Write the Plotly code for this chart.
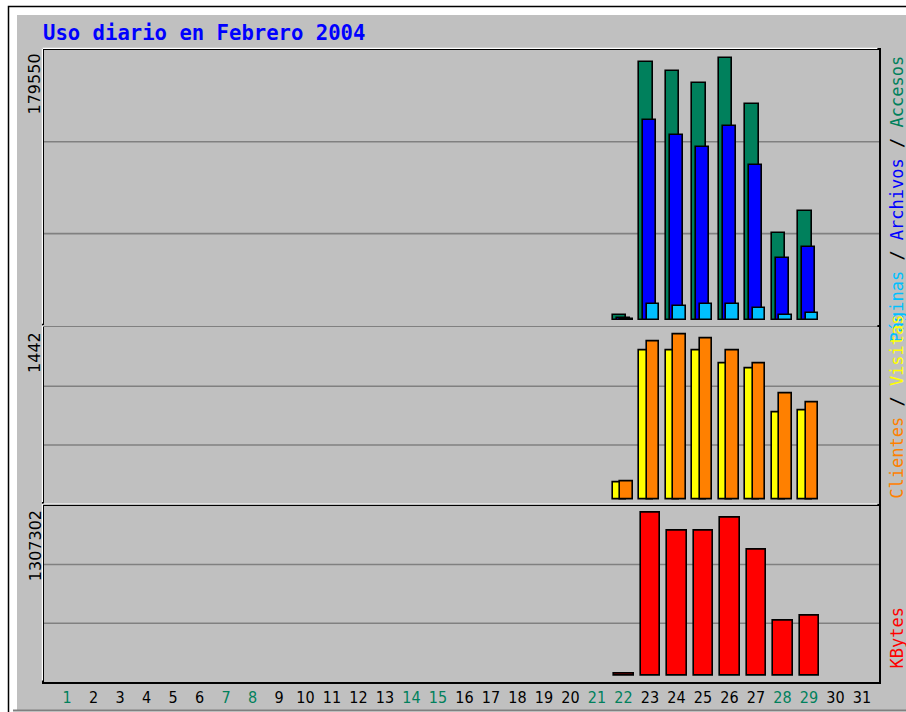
import plotly.graph_objects as go

# ---------------- data ----------------
dias_mes = list(range(1, 32))
fines_de_semana = [1, 7, 8, 14, 15, 21, 22, 28, 29]
dias = [22, 23, 24, 25, 26, 27, 28, 29]
accesos = [3900, 177000, 171000, 162600, 179550, 148000, 59900, 74800]
archivos = [1600, 137000, 126900, 118700, 133100, 106300, 43000, 50100]
paginas = [1100, 11000, 9800, 11000, 11000, 8700, 3600, 5000]
visitas = [143, 1301, 1301, 1301, 1192, 1143, 756, 774]
clientes = [158, 1380, 1442, 1412, 1301, 1192, 929, 849]
kbytes = [15000, 1307302, 1164700, 1164700, 1267000, 1006800, 435000, 477600]

titulo = "Uso diario en Febrero 2004"

# ---------------- colours ----------------
GREEN = "#00805c"
BLUE = "#0000ff"
CYAN = "#00c0ff"
YELLOW = "#ffff00"
ORANGE = "#ff8000"
RED = "#ff0000"
GRAY = "#c0c0c0"
DARK = "#808080"

K = 719 / 712                  # vertical compensation for the capture
W, H = 906, 719
L, R, T, B = 44, 879, 50, 681  # plot area in reference pixels


def px(x):
    return (x - L) / (R - L)


def py(y):
    return (B - y) / (B - T)


M1, M2, M3 = max(accesos), max(clientes), max(kbytes)

fig = go.Figure()
line = dict(color="black", width=1.6)

fig.add_bar(x=dias, y=accesos, offset=-0.404, width=0.50,
            marker=dict(color=GREEN, line=line), xaxis="x", yaxis="y")
fig.add_bar(x=dias, y=archivos, offset=-0.253, width=0.48,
            marker=dict(color=BLUE, line=line), xaxis="x", yaxis="y")
fig.add_bar(x=dias, y=paginas, offset=-0.125, width=0.48,
            marker=dict(color=CYAN, line=line), xaxis="x", yaxis="y")
fig.add_bar(x=dias, y=visitas, offset=-0.404, width=0.50,
            marker=dict(color=YELLOW, line=line), xaxis="x2", yaxis="y2")
fig.add_bar(x=dias, y=clientes, offset=-0.125, width=0.48,
            marker=dict(color=ORANGE, line=line), xaxis="x2", yaxis="y2")
fig.add_bar(x=dias, y=kbytes, offset=-0.351, width=0.728,
            marker=dict(color=RED, line=line), xaxis="x3", yaxis="y3")

xrange_ = [0.132, 31.641]
ax_common = dict(showgrid=False, zeroline=False, showline=True, mirror=True,
                 linecolor="black", linewidth=1.5, fixedrange=True, ticks="")

doms = [
    [py(325), py(T)],
    [py(503), py(327)],
    [py(B), py(505)],
]
ranges = [
    [-0.0191 * M1, 1.0317 * M1],
    [-0.0286 * M2, 1.0445 * M2],
    [-0.0413 * M3, 1.0431 * M3],
]

ticktext = [
    f"<span style='color:{GREEN}'>{d}</span>" if d in fines_de_semana else str(d)
    for d in dias_mes
]

layout = dict(
    width=W, height=H,
    margin=dict(l=L, r=W - R, t=round(T * K), b=H - round(B * K), pad=0),
    paper_bgcolor="white",
    plot_bgcolor=GRAY,
    barmode="overlay",
    showlegend=False,
    bargap=0,
)
for i in range(3):
    sx = "" if i == 0 else str(i + 1)
    layout["xaxis" + sx] = dict(ax_common, range=xrange_, domain=[0, 1],
                                anchor="y" + sx, showticklabels=(i == 2),
                                tickmode="array", tickvals=dias_mes, ticktext=ticktext,
                                tickfont=dict(family="DejaVu Sans Condensed, DejaVu Sans",
                                              size=16, color="black"))
    layout["yaxis" + sx] = dict(ax_common, range=ranges[i], domain=doms[i],
                                anchor="x" + sx, showticklabels=False)
fig.update_layout(**layout)

shapes = []
# outer frame
shapes.append(dict(type="rect", xref="paper", yref="paper",
                   x0=px(8.5), x1=px(930), y0=py(6.5), y1=py(740),
                   line=dict(color="black", width=1.5), fillcolor="white", layer="below"))
shapes.append(dict(type="rect", xref="paper", yref="paper",
                   x0=px(17), x1=px(930), y0=py(15), y1=py(709),
                   line=dict(width=0), fillcolor=GRAY, layer="below"))
shapes.append(dict(type="line", xref="paper", yref="paper",
                   x0=px(13), x1=px(930), y0=py(709.5), y1=py(709.5),
                   line=dict(color=DARK, width=2), layer="below"))
# gridlines at thirds of each panel
for i in range(3):
    sx = "" if i == 0 else str(i + 1)
    for f in (1 / 3, 2 / 3):
        shapes.append(dict(type="line", xref="x" + sx + " domain", yref="y" + sx + " domain",
                           x0=0, x1=1, y0=f, y1=f,
                           line=dict(color=DARK, width=1.6), layer="below"))
# white bevel lines (top / left outside of each panel)
for top, bot in ((T, 325), (327, 503), (505, B)):
    shapes.append(dict(type="line", xref="paper", yref="paper",
                       x0=px(L - 1.6), x1=px(R - 1.6), y0=py(top - 1.6), y1=py(top - 1.6),
                       line=dict(color="white", width=1.2), layer="above"))
    shapes.append(dict(type="line", xref="paper", yref="paper",
                       x0=px(L - 1.6), x1=px(L - 1.6), y0=py(top - 1.6), y1=py(bot - 1.6),
                       line=dict(color="white", width=1.2), layer="above"))
fig.update_layout(shapes=shapes)

ann = []
ann.append(dict(text=f"<b>{titulo}</b>", xref="paper", yref="paper", x=px(41), y=py(33),
                xanchor="left", yanchor="middle", showarrow=False,
                font=dict(family="DejaVu Sans Mono", size=20.6, color=BLUE)))
# max labels
for val, top in ((M1, 52), (M2, 330), (M3, 508)):
    ann.append(dict(text=str(val), xref="paper", yref="paper", x=px(35), y=py(top),
                    xanchor="center", yanchor="top", textangle=-90, showarrow=False,
                    font=dict(family="DejaVu Sans", size=16, color="black")))
lab_font = dict(family="DejaVu Sans Mono", size=17, color="black")
ann.append(dict(text=f"<span style='color:{CYAN}'>Páginas</span> / "
                     f"<span style='color:{BLUE}'>Archivos</span> / "
                     f"<span style='color:{GREEN}'>Accesos</span>",
                xref="paper", yref="paper", x=px(897), y=py(53),
                xanchor="center", yanchor="top", textangle=-90, showarrow=False, font=lab_font))
ann.append(dict(text=f"<span style='color:{ORANGE}'>Clientes</span> / "
                     f"<span style='color:{YELLOW}'>Visitas</span>",
                xref="paper", yref="paper", x=px(897), y=py(500),
                xanchor="center", yanchor="bottom", textangle=-90, showarrow=False, font=lab_font))
ann.append(dict(text=f"<span style='color:{RED}'>KBytes</span>",
                xref="paper", yref="paper", x=px(897), y=py(669),
                xanchor="center", yanchor="bottom", textangle=-90, showarrow=False, font=lab_font))
fig.update_layout(annotations=ann)

# pin the figure to the window's top-left corner (no page margin / overflow)
post = ("document.documentElement.style.margin='0';"
        "document.body.style.margin='0';"
        "document.body.style.overflow='hidden';"
        "var gd=document.getElementById('{plot_id}');"
        "gd.style.position='fixed';gd.style.left='0px';gd.style.top='0px';")
fig.write_html("out.html", config={"displayModeBar": False}, post_script=post)
